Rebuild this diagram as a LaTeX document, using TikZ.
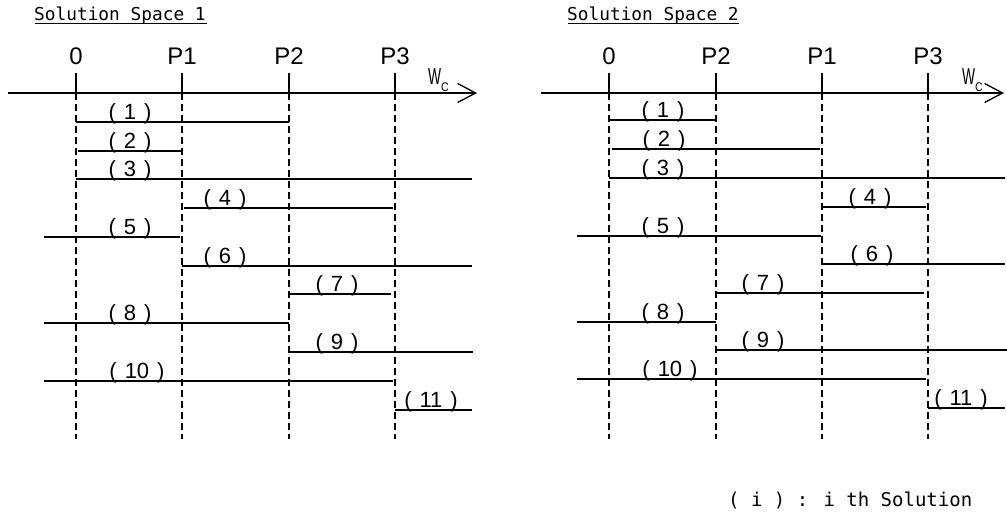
\documentclass[tikz,border=0pt]{standalone}
\usepackage{graphicx}
\usepackage{fontspec}
\setmainfont{Liberation Sans}
\newfontfamily\monof{DejaVu Sans Mono}
\usetikzlibrary{arrows.meta}
\newcommand\solab[1]{(\hspace{8pt}#1\hspace{8pt})}
\newcommand\wclab{\scalebox{0.6}[1]{\fontsize{23}{23}\selectfont W}\raisebox{-7pt}{\scalebox{0.85}[1]{\fontsize{12.5}{12.5}\selectfont C}}}
\begin{document}
\begin{tikzpicture}[x=1pt,y=-1pt,
  axisline/.style={line width=1.3pt,-{Straight Barb[length=18pt,width=19pt,line width=1.3pt]}},
  sol/.style={line width=1.3pt},
  guide/.style={line width=1.2pt,dash pattern=on 7pt off 4pt},
  tickmark/.style={line width=1.3pt},
  ticklbl/.style={font=\fontsize{24}{24}\selectfont,anchor=base,inner sep=0pt},
  sollbl/.style={font=\fontsize{22}{22}\selectfont,anchor=base,inner sep=0pt},
  titlelbl/.style={font=\monof\fontsize{17.8}{18}\selectfont,anchor=base west,inner sep=0pt},
  wclbl/.style={anchor=base west,inner sep=0pt},
]
\useasboundingbox (0,0) rectangle (1007,518);

% ---------------- Panel 1 ----------------
\node[titlelbl] (t1) at (34,21) {Solution Space 1};
\draw[line width=1pt] (35,24) -- (207,24);

\coordinate (a1s) at (8,93);
\coordinate (a1e) at (477,93);
\draw[axisline] (a1s) -- (a1e);
\node[wclbl] (wc1) at (428,85) {\wclab};

\foreach \x/\lab/\nm in {76/0/z,182/P1/p,289/P2/q,395/P3/r}{
  \draw[tickmark] (\x,73) -- (\x,93);
  \node[ticklbl] (l1\nm) at (\x,65) {\lab};
  \draw[guide] (\x,93) -- (\x,439);
}

\draw[sol] (76,122) -- (289,122);
\draw[sol] (78,151) -- (183,151);
\draw[sol] (76,179) -- (472,179);
\draw[sol] (184,208) -- (393,208);
\draw[sol] (44,237) -- (180,237);
\draw[sol] (182,266) -- (472,266);
\draw[sol] (288,294) -- (391,294);
\draw[sol] (44,323) -- (289,323);
\draw[sol] (289,352) -- (473,352);
\draw[sol] (44,381) -- (393,381);
\draw[sol] (395,410) -- (472,410);

\node[sollbl] (s1a) at (130,120) {\solab{1}};
\node[sollbl] (s1b) at (130,149) {\solab{2}};
\node[sollbl] (s1c) at (130,177) {\solab{3}};
\node[sollbl] (s1d) at (225,206) {\solab{4}};
\node[sollbl] (s1e) at (130,235) {\solab{5}};
\node[sollbl] (s1f) at (225,264) {\solab{6}};
\node[sollbl] (s1g) at (337,292) {\solab{7}};
\node[sollbl] (s1h) at (130,321) {\solab{8}};
\node[sollbl] (s1i) at (337,350) {\solab{9}};
\node[sollbl] (s1j) at (137,379) {\solab{10}};
\node[sollbl] (s1k) at (431,408) {\solab{11}};

% ---------------- Panel 2 ----------------
\node[titlelbl] (t2) at (567,21) {Solution Space 2};
\draw[line width=1pt] (568,24) -- (739,24);

\coordinate (a2s) at (541,93);
\coordinate (a2e) at (1004,93);
\draw[axisline] (a2s) -- (a2e);
\node[wclbl] (wc2) at (962,85) {\wclab};

\foreach \x/\lab/\nm in {609/0/z,716/P2/q,822/P1/p,928/P3/r}{
  \draw[tickmark] (\x,73) -- (\x,93);
  \node[ticklbl] (l2\nm) at (\x,65) {\lab};
  \draw[guide] (\x,93) -- (\x,439);
}

\draw[sol] (609,120) -- (715,120);
\draw[sol] (612,149) -- (820,149);
\draw[sol] (609,178) -- (1005,178);
\draw[sol] (822,207) -- (926,207);
\draw[sol] (577,236) -- (821,236);
\draw[sol] (822,264) -- (1005,264);
\draw[sol] (716,293) -- (924,293);
\draw[sol] (577,322) -- (716,322);
\draw[sol] (716,350) -- (1007,350);
\draw[sol] (577,379) -- (926,379);
\draw[sol] (928,408) -- (1005,408);

\node[sollbl] (s2a) at (663,118) {\solab{1}};
\node[sollbl] (s2b) at (664,147) {\solab{2}};
\node[sollbl] (s2c) at (663,176) {\solab{3}};
\node[sollbl] (s2d) at (870,205) {\solab{4}};
\node[sollbl] (s2e) at (663,234) {\solab{5}};
\node[sollbl] (s2f) at (872,262) {\solab{6}};
\node[sollbl] (s2g) at (763,291) {\solab{7}};
\node[sollbl] (s2h) at (663,320) {\solab{8}};
\node[sollbl] (s2i) at (763,348) {\solab{9}};
\node[sollbl] (s2j) at (670,377) {\solab{10}};
\node[sollbl] (s2k) at (961,406) {\solab{11}};

% ---------------- Legend ----------------
\node[anchor=base west,inner sep=0pt,font=\monof\fontsize{19}{19}\selectfont] (leg) at (728,506) {( i ) : i th Solution};
\end{tikzpicture}
\end{document}
